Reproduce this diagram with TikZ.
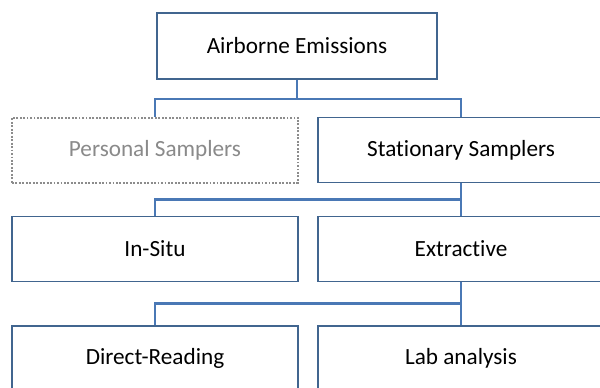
\documentclass[tikz,border=0pt]{standalone}
\usepackage{fontspec}
\setmainfont{Carlito}[Ligatures={NoCommon}]
\definecolor{boxblue}{HTML}{41658F}
\definecolor{connblue}{HTML}{4A78B5}
\definecolor{greytext}{HTML}{8A8A8A}
\definecolor{greyline}{HTML}{8C8C8C}
\begin{document}
\begin{tikzpicture}[x=0.75pt,y=-0.75pt,
  box/.style={draw=boxblue,line width=1.4pt,fill=white,minimum width=286*0.75pt,minimum height=65*0.75pt,inner sep=0pt,font=\fontsize{17.4pt}{20pt}\selectfont,text=black},
  ghost/.style={box,draw=greyline,line width=1.5pt,dash pattern=on 1.4pt off 1.2pt,text=greytext},
  conn/.style={draw=connblue,line width=1.7pt}]
\useasboundingbox (0,0) rectangle (600,387);
\node[box,minimum width=280*0.75pt,minimum height=66*0.75pt] (A) at (297,46) {\raisebox{-1.5pt}{Airborne Emissions}};
\node[ghost] (P) at (155,150) {\raisebox{-1.5pt}{Personal Samplers}};
\node[box] (S) at (461,150) {\raisebox{-2pt}{Stationary Samplers}};
\node[box] (I) at (155,249) {\raisebox{-2pt}{In-Situ}};
\node[box] (E) at (461,249) {Extractive};
\node[box] (D) at (155,358.5) {\raisebox{-1.5pt}{Direct-Reading}};
\node[box] (L) at (461,358.5) {Lab analysis};
\draw[conn] (A.south) -- ++(0,19) -| (P.north);
\draw[conn] (A.south) ++(0,19) -| (S.north);
\draw[conn] (S.south) -- ++(0,16) -| (I.north);
\draw[conn] (S.south) -- (E.north);
\draw[conn] (E.south) -- ++(0,21) -| (D.north);
\draw[conn] (E.south) -- (L.north);
\end{tikzpicture}
\end{document}
